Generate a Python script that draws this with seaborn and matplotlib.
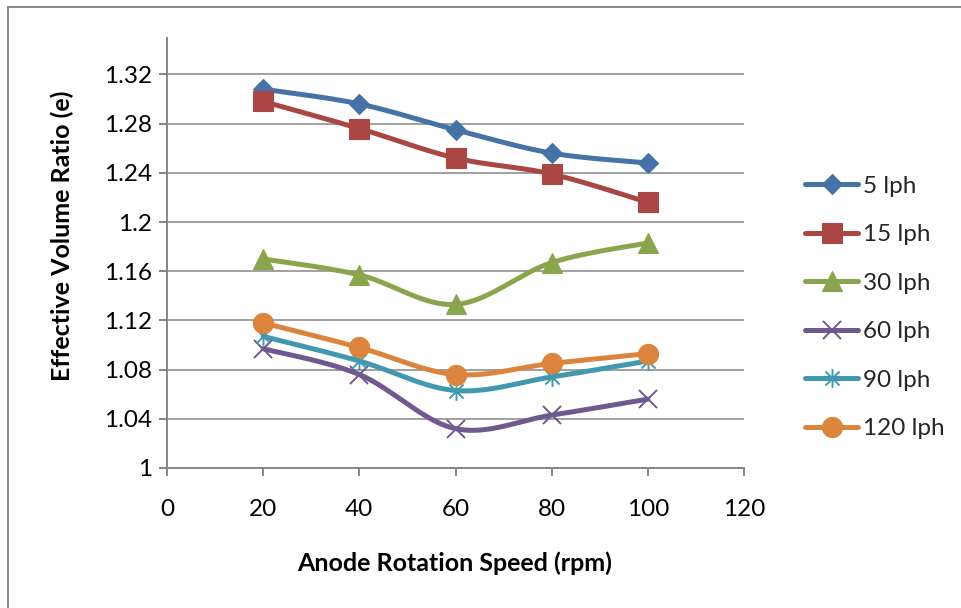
import numpy as np
import matplotlib
matplotlib.use("Agg")
import matplotlib.pyplot as plt
from matplotlib.lines import Line2D
from matplotlib.path import Path
from matplotlib.patches import Rectangle
import seaborn as sns

# ---------------- data ----------------
speeds = [20, 40, 60, 80, 100]
series_names = ["5 lph", "15 lph", "30 lph", "60 lph", "90 lph", "120 lph"]
v_5 = [1.308, 1.296, 1.275, 1.256, 1.248]
v_15 = [1.298, 1.276, 1.252, 1.239, 1.216]
v_30 = [1.170, 1.157, 1.133, 1.167, 1.183]
v_60 = [1.097, 1.076, 1.032, 1.043, 1.056]
v_90 = [1.107, 1.087, 1.063, 1.074, 1.087]
v_120 = [1.118, 1.098, 1.076, 1.085, 1.093]
series_values = [v_5, v_15, v_30, v_60, v_90, v_120]
x_ticks = [0, 20, 40, 60, 80, 100, 120]
y_ticks = [1.0, 1.04, 1.08, 1.12, 1.16, 1.2, 1.24, 1.28, 1.32]
y_tick_labels = ["1", "1.04", "1.08", "1.12", "1.16", "1.2", "1.24", "1.28", "1.32"]

# ---------------- style ----------------
sns.set_theme(style="white")
plt.rcParams["font.family"] = ["Lato", "DejaVu Sans"]

colors = ["#4572A7", "#AA4643", "#89A54E", "#71588F", "#4198AF", "#DB843D"]
asterisk = Path(
    [(0, -1), (0, 1), (-0.75, -0.75), (0.75, 0.75), (-0.75, 0.75), (0.75, -0.75)],
    [Path.MOVETO, Path.LINETO, Path.MOVETO, Path.LINETO, Path.MOVETO, Path.LINETO],
)
markers = ["D", "s", "^", "x", asterisk, "o"]
msizes = [10.5, 14.0, 14.0, 13.0, 13.5, 14.5]
filled = [True, True, True, False, False, True]

TICK_FS = 17.5
TITLE_FS = 18


def excel_smooth(x, y, n=40):
    pts = np.column_stack([x, y]).astype(float)
    P = np.vstack([pts[0], pts, pts[-1]])
    out = []
    t = np.linspace(0, 1, n)[:, None]
    for i in range(len(pts) - 1):
        p0, p1, p2, p3 = P[i], P[i + 1], P[i + 2], P[i + 3]
        c1 = p1 + (p2 - p0) / 6.0
        c2 = p2 - (p3 - p1) / 6.0
        seg = ((1 - t) ** 3) * p1 + 3 * ((1 - t) ** 2) * t * c1 + 3 * (1 - t) * t ** 2 * c2 + t ** 3 * p2
        out.append(seg if i == 0 else seg[1:])
    s = np.vstack(out)
    return s[:, 0], s[:, 1]


W, H = 962, 608
fig = plt.figure(figsize=(W / 100, H / 100), dpi=100)
L, R, T, B = 167, 744, 37.5, 468
ax = fig.add_axes([L / W, 1 - B / H, (R - L) / W, (B - T) / H])

grid_c = "#868686"
ax.set_xlim(0, 120)
ax.set_ylim(1.0, 1.35)
ax.set_yticks(y_ticks)
ax.set_yticklabels(y_tick_labels)
ax.set_xticks(x_ticks)
ax.set_xticklabels([str(v) for v in x_ticks])
ax.yaxis.grid(True, color=grid_c, linewidth=1.1)
ax.xaxis.grid(False)
ax.set_axisbelow(True)
for sp in ["top", "right"]:
    ax.spines[sp].set_visible(False)
for sp in ["left", "bottom"]:
    ax.spines[sp].set_color(grid_c)
    ax.spines[sp].set_linewidth(1.4)
ax.tick_params(axis="both", which="major", direction="out", length=6, width=1.4,
               color=grid_c, labelsize=TICK_FS, labelcolor="black")
ax.tick_params(axis="y", pad=5)
ax.tick_params(axis="x", pad=16)
ax.tick_params(left=True, bottom=True)

handles = []
for name, vals, c, m, ms, f in zip(series_names, series_values, colors, markers, msizes, filled):
    sx, sy = excel_smooth(speeds, vals)
    sns.lineplot(x=sx, y=sy, ax=ax, color=c, linewidth=3.6, estimator=None, sort=False,
                 legend=False, solid_capstyle="round")
    if f:
        ax.plot(speeds, vals, linestyle="none", marker=m, markersize=ms, markerfacecolor=c,
                markeredgecolor=c, markeredgewidth=0.8, zorder=3)
        h = Line2D([], [], color=c, linewidth=3.6, marker=m, markersize=ms,
                   markerfacecolor=c, markeredgecolor=c, markeredgewidth=0.8,
                   solid_capstyle="round")
    else:
        ax.plot(speeds, vals, linestyle="none", marker=m, markersize=ms, markerfacecolor="none",
                markeredgecolor=c, markeredgewidth=1.4, zorder=3)
        h = Line2D([], [], color=c, linewidth=3.6, marker=m, markersize=ms,
                   markerfacecolor="none", markeredgecolor=c, markeredgewidth=1.4,
                   solid_capstyle="round")
    handles.append(h)

ax.set_xlabel("Anode Rotation Speed (rpm)", fontsize=TITLE_FS, fontweight="bold", color="black")
ax.set_ylabel("Effective Volume Ratio (e)", fontsize=TITLE_FS, fontweight="bold", color="black")
ax.xaxis.set_label_coords((454.5 - L) / (R - L), (B - 563) / (B - T))
ax.xaxis.label.set_va("center")
ax.yaxis.set_label_coords((62 - L) / (R - L), (B - 236) / (B - T))
ax.yaxis.label.set_va("center")

leg = fig.legend(handles, series_names, loc="center left",
                 bbox_to_anchor=(805 / W, 1 - 307.5 / H), bbox_transform=fig.transFigure,
                 frameon=False, fontsize=TICK_FS, handlelength=2.2, handletextpad=0.2,
                 labelspacing=1.13, borderpad=0, borderaxespad=0)

fig.patches.append(Rectangle((8 / W, -0.1), 1.2, 1.1 - 7.5 / H, transform=fig.transFigure,
                             fill=False, edgecolor=grid_c, linewidth=1.4, zorder=0))

fig.savefig("out.png", dpi=100)
